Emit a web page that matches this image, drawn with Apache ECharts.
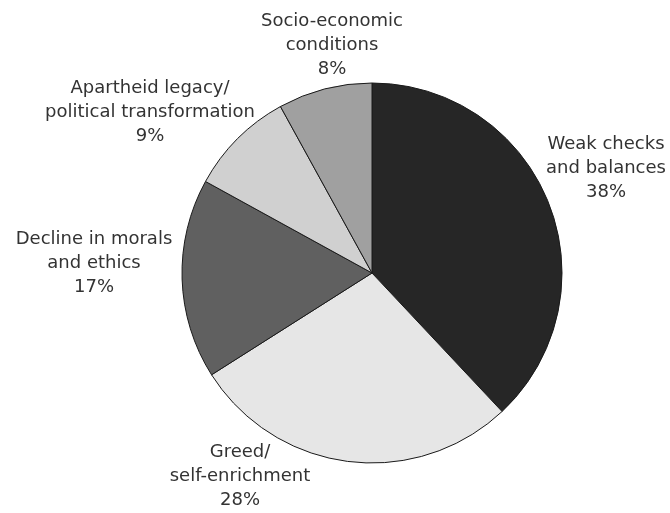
<!DOCTYPE html>
<html>
<head>
<meta charset="utf-8">
<script src="https://cdn.jsdelivr.net/npm/echarts@6/dist/echarts.min.js"></script>
<style>
  html, body { margin: 0; padding: 0; background: #ffffff; }
  #chart { width: 670px; height: 513px; }
</style>
</head>
<body>
<div id="chart"></div>
<script>
// Perceived causes of corruption (share of responses, %)
const categories = [
  'Weak checks\nand balances',
  'Greed/\nself-enrichment',
  'Decline in morals\nand ethics',
  'Apartheid legacy/\npolitical transformation',
  'Socio-economic\nconditions'
];
const shares = [38, 28, 17, 9, 8];

// Grey fill per slice, clockwise from 12 o'clock
const sliceColors = ['#262626', '#e6e6e6', '#606060', '#d0d0d0', '#a0a0a0'];

// Label anchor points (centre of each text block, in pixels)
const labelAnchors = [
  [606, 168],
  [240, 476],
  [94, 263],
  [150, 112],
  [332, 45]
];

const chart = echarts.init(document.getElementById('chart'), null, { renderer: 'canvas' });

chart.setOption({
  backgroundColor: '#ffffff',
  animation: false,
  series: [{
    type: 'pie',
    center: [372, 273],
    radius: 190,
    startAngle: 90,
    clockwise: true,
    avoidLabelOverlap: false,
    data: categories.map((name, i) => ({
      name: name,
      value: shares[i],
      itemStyle: { color: sliceColors[i] }
    })),
    itemStyle: { borderColor: '#1a1a1a', borderWidth: 1 },
    label: {
      show: true,
      position: 'outside',
      formatter: p => p.name + '\n' + p.value + '%',
      fontFamily: 'DejaVu Sans',
      fontSize: 18,
      lineHeight: 24,
      color: '#333333',
      align: 'center'
    },
    labelLine: { show: false },
    labelLayout: params => ({
      x: labelAnchors[params.dataIndex][0],
      y: labelAnchors[params.dataIndex][1],
      align: 'center',
      verticalAlign: 'middle'
    }),
    emphasis: { disabled: true }
  }]
});
</script>
</body>
</html>
